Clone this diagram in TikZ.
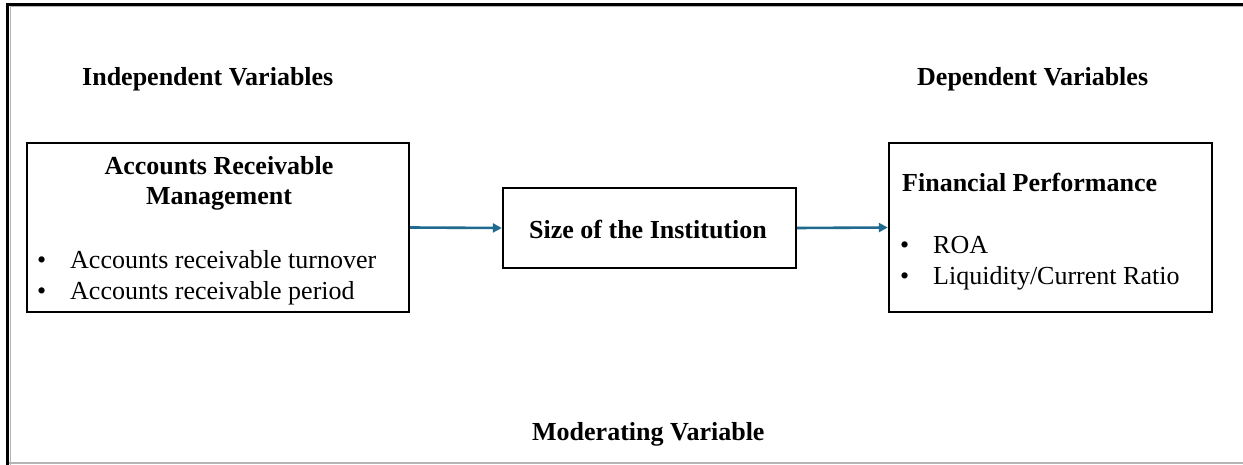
\documentclass[tikz,border=0pt]{standalone}
\usepackage{fontspec}
\setmainfont{Liberation Serif}
\usetikzlibrary{arrows.meta}
\definecolor{linkblue}{RGB}{31,106,142}
\definecolor{framegray}{RGB}{180,180,180}
\begin{document}
\begin{tikzpicture}[x=1pt,y=-1pt,
  box/.style={draw=black,line width=2.4pt,inner sep=0pt,rectangle},
  lbl/.style={font=\fontsize{26}{30}\selectfont\bfseries,inner sep=0pt},
  txt/.style={font=\fontsize{26}{30}\selectfont,inner sep=0pt,anchor=base west},
  link/.style={draw=linkblue,line width=2.6pt,-{Triangle[length=9pt,width=9pt]}}]
\useasboundingbox (0,0) rectangle (1243,465);
\fill[white] (0,0) rectangle (1243,465);
% outer frame
\draw[framegray,line width=1pt] (10,465) -- (10,7) -- (1243,7);
\draw[framegray,line width=1.5pt] (9,463) -- (1243,463);
\draw[black,line width=3pt] (7.5,465) -- (7.5,4.5) -- (1243,4.5);
% headings
\node[lbl,anchor=base west] (indep) at (82,86) {Independent Variables};
\node[lbl,anchor=base west] (dep) at (917,86) {Dependent Variables};
\node[lbl,anchor=base west] (mod) at (532,440) {Moderating Variable};
% boxes
\node[box,minimum width=382pt,minimum height=169pt] (arm) at (218,227.5) {};
\node[box,minimum width=293pt,minimum height=80pt] (size) at (649.5,228) {};
\node[box,minimum width=323pt,minimum height=169pt] (fp) at (1050.5,227.5) {};
% left box text
\node[lbl,anchor=base] (armt1) at (219,175) {Accounts Receivable};
\node[lbl,anchor=base] (armt2) at (219,205) {Management};
\node[txt] (b1) at (37,269) {\textbullet};
\node[txt] (b1t) at (70,269) {Accounts receivable turnover};
\node[txt] (b2) at (37,300) {\textbullet};
\node[txt] (b2t) at (70,300) {Accounts receivable period};
% middle text
\node[lbl,anchor=base] (sizet) at (648,239) {Size of the Institution};
% right box text
\node[lbl,anchor=base west] (fpt) at (902,192) {Financial Performance};
\node[txt] (b3) at (900,254) {\textbullet};
\node[txt] (b3t) at (933,254) {ROA};
\node[txt] (b4) at (900,285) {\textbullet};
\node[txt] (b4t) at (933,285) {Liquidity/Current Ratio};
% connectors
\draw[link] (arm.east) -- (size.west);
\draw[link] (size.east) -- (fp.west);
\end{tikzpicture}
\end{document}
